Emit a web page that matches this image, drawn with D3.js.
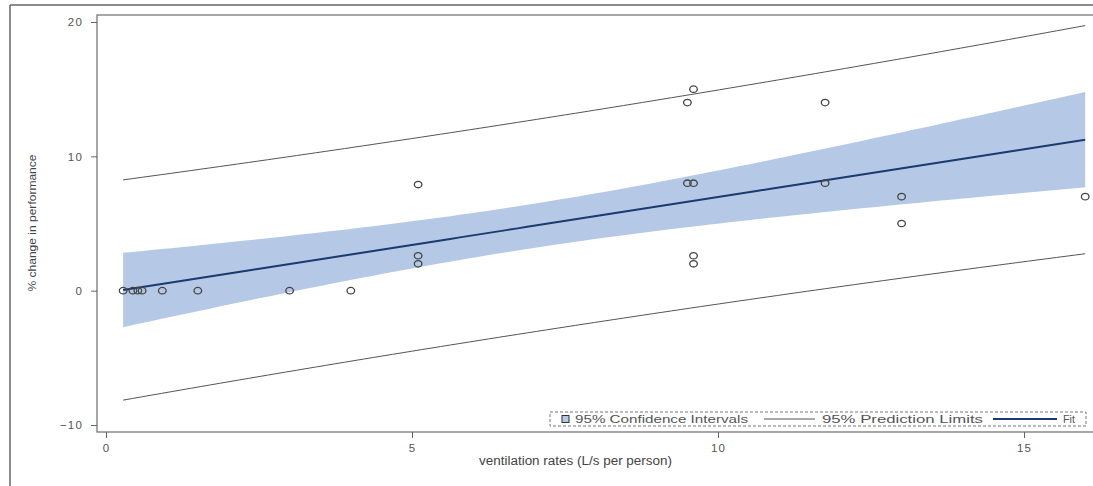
<!DOCTYPE html>
<html>
<head>
<meta charset="utf-8">
<script src="https://cdn.jsdelivr.net/npm/d3@7"></script>
<style>
body { margin: 0; background: #fff; }
svg { font-family: "Liberation Sans", Arial, sans-serif; }
</style>
</head>
<body>
<script>
// observations (ventilation rate, % change)
const ventRates = [0.28, 0.44, 0.52, 0.59, 0.92, 1.5, 3.0, 4.0,
  5.1, 5.1, 5.1,
  9.5, 9.6, 9.5, 9.6, 9.6, 9.6,
  11.75, 11.75, 13.0, 13.0, 16.0]
const perfChange = [0, 0, 0, 0, 0, 0, 0, 0,
  7.9, 2.6, 2,
  14, 15, 8, 8, 2.6, 2,
  14, 8, 7, 5, 7]
const xTicks = [0, 5, 10, 15]
const yTicks = [-10, 0, 10, 20]
const legendItems = ['95% Confidence Intervals', '95% Prediction Limits', 'Fit']
const tCrit = 2.086 // t(0.975, df=20)

const width = 1093
const height = 486
const svg = d3.select('body').append('svg')
  .attr('width', width)
  .attr('height', height)

const plot = { left: 97, top: 15, right: 1100, bottom: 432 }

const x = d3.scaleLinear().domain([0, 10]).range([106, 718])
const y = d3.scaleLinear().domain([-10, 20]).range([425, 22])

// outer frame
svg.append('line').attr('x1', 10).attr('x2', 10).attr('y1', 5).attr('y2', height)
  .attr('stroke', '#666').attr('stroke-width', 1.5)
svg.append('line').attr('x1', 10).attr('x2', width).attr('y1', 5).attr('y2', 5)
  .attr('stroke', '#666').attr('stroke-width', 1.5)

// regression
const data = ventRates.map((v, i) => ({ x: v, y: perfChange[i] }))
const n = data.length
const mx = d3.mean(data, d => d.x)
const my = d3.mean(data, d => d.y)
const sxx = d3.sum(data, d => (d.x - mx) ** 2)
const sxy = d3.sum(data, d => (d.x - mx) * (d.y - my))
const b1 = sxy / sxx
const b0 = my - b1 * mx
const sse = d3.sum(data, d => (d.y - b0 - b1 * d.x) ** 2)
const s = Math.sqrt(sse / (n - 2))

const [xmin, xmax] = d3.extent(ventRates)
const grid = d3.range(0, 101).map(k => xmin + (xmax - xmin) * k / 100)
const band = grid.map(v => {
  const fit = b0 + b1 * v
  const h = 1 / n + (v - mx) ** 2 / sxx
  return {
    x: v, fit,
    cl: fit - tCrit * s * Math.sqrt(h), cu: fit + tCrit * s * Math.sqrt(h),
    pl: fit - tCrit * s * Math.sqrt(1 + h), pu: fit + tCrit * s * Math.sqrt(1 + h)
  }
})

svg.append('path')
  .attr('d', d3.area().x(d => x(d.x)).y0(d => y(d.cl)).y1(d => y(d.cu))(band))
  .attr('fill', '#b5c8e6')

const lineGen = key => d3.line().x(d => x(d.x)).y(d => y(d[key]))(band)
svg.append('path').attr('d', lineGen('pu')).attr('fill', 'none').attr('stroke', '#555').attr('stroke-width', 1)
svg.append('path').attr('d', lineGen('pl')).attr('fill', 'none').attr('stroke', '#555').attr('stroke-width', 1)
svg.append('path').attr('d', lineGen('fit')).attr('fill', 'none').attr('stroke', '#1c3a70').attr('stroke-width', 2)

svg.selectAll('ellipse.pt')
  .data(data)
  .join('ellipse')
  .attr('class', 'pt')
  .attr('cx', d => x(d.x))
  .attr('cy', d => y(d.y))
  .attr('rx', 3.8)
  .attr('ry', 3.2)
  .attr('fill', 'none')
  .attr('stroke', '#444')
  .attr('stroke-width', 1.3)

// plot frame
svg.append('rect')
  .attr('x', plot.left).attr('y', plot.top)
  .attr('width', plot.right - plot.left).attr('height', plot.bottom - plot.top)
  .attr('fill', 'none').attr('stroke', '#777').attr('stroke-width', 1.3)

// axes
const yAxis = svg.append('g').attr('transform', `translate(${plot.left},0)`)
  .call(d3.axisLeft(y).tickValues(yTicks).tickFormat(d3.format('d')).tickSize(6).tickPadding(8))
yAxis.select('.domain').remove()
yAxis.selectAll('line').attr('stroke', '#666')
yAxis.selectAll('text').attr('fill', '#555').attr('font-size', 11.5).attr('letter-spacing', 1.2)

const xAxis = svg.append('g').attr('transform', `translate(0,${plot.bottom})`)
  .call(d3.axisBottom(x).tickValues(xTicks).tickFormat(d3.format('d')).tickSize(6).tickPadding(6))
xAxis.select('.domain').remove()
xAxis.selectAll('line').attr('stroke', '#666')
xAxis.selectAll('text').attr('fill', '#555').attr('font-size', 11.5).attr('letter-spacing', 1)

svg.append('text')
  .attr('x', 479).attr('y', 465)
  .attr('font-size', 12).attr('fill', '#444')
  .attr('textLength', 193).attr('lengthAdjust', 'spacingAndGlyphs')
  .text('ventilation rates (L/s per person)')

svg.append('text')
  .attr('transform', 'translate(36,223) rotate(-90)')
  .attr('text-anchor', 'middle')
  .attr('font-size', 11.5).attr('fill', '#444')
  .attr('textLength', 137).attr('lengthAdjust', 'spacingAndGlyphs')
  .text('% change in performance')

// legend
const lg = svg.append('g')
lg.append('rect')
  .attr('x', 550).attr('y', 412).attr('width', 536).attr('height', 14)
  .attr('fill', '#fff').attr('stroke', '#777').attr('stroke-dasharray', '3,2')
lg.append('rect')
  .attr('x', 562).attr('y', 415.5).attr('width', 7).attr('height', 7)
  .attr('fill', '#b5c8e6').attr('stroke', '#333')
const lgText = (x0, len, txt) => lg.append('text')
  .attr('x', x0).attr('y', 423).attr('font-size', 10.5).attr('fill', '#555')
  .attr('textLength', len).attr('lengthAdjust', 'spacingAndGlyphs').text(txt)
lgText(575, 173, legendItems[0])
lg.append('line').attr('x1', 764).attr('x2', 815).attr('y1', 419).attr('y2', 419).attr('stroke', '#555')
lgText(822, 161, legendItems[1])
lg.append('line').attr('x1', 993).attr('x2', 1057).attr('y1', 419).attr('y2', 419).attr('stroke', '#1c3a70').attr('stroke-width', 2)
lgText(1063, 12, legendItems[2])
</script>
</body>
</html>
